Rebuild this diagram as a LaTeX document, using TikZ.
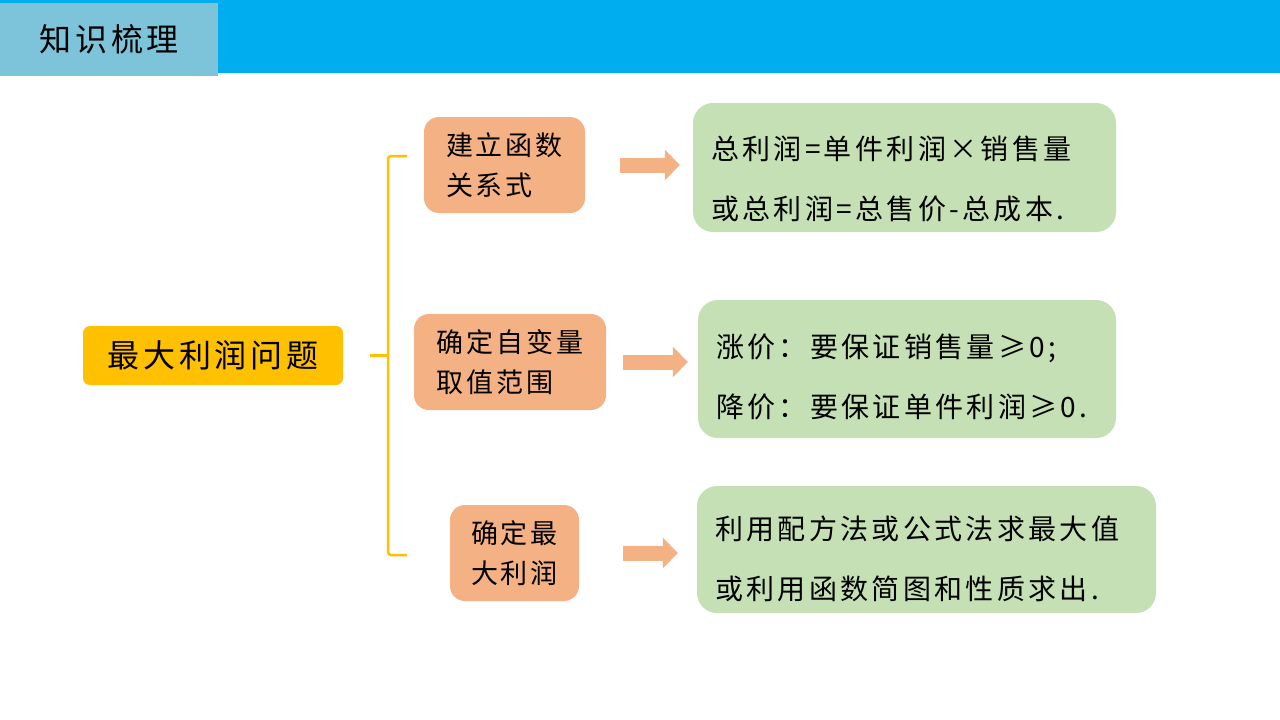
\documentclass[tikz,border=0pt]{standalone}
\usepackage{fontspec}
\usepackage{tikz}
\setmainfont{Noto Sans CJK SC}
\newfontfamily\kaiwide[LetterSpace=12]{Noto Sans CJK SC}
\newfontfamily\kaimid[LetterSpace=11]{Noto Sans CJK SC}
\usetikzlibrary{arrows.meta}
\definecolor{barblue}{HTML}{00AEEF}
\definecolor{tabblue}{HTML}{7DC3D9}
\definecolor{gold}{HTML}{FFC000}
\definecolor{peach}{HTML}{F4B183}
\definecolor{sage}{HTML}{C5E0B4}
\tikzset{
  mainbox/.style={fill=gold, rounded corners=7pt, inner sep=0pt, font=\kaiwide\fontsize{32}{36}\selectfont},
  stepbox/.style={fill=peach, rounded corners=15pt, inner sep=0pt, minimum height=96pt, align=left, font=\kaimid\fontsize{27}{40}\selectfont},
  notebox/.style={fill=sage, rounded corners=20pt, inner xsep=18pt, inner ysep=0pt, align=left, font=\kaiwide\fontsize{28}{60}\selectfont},
  brace/.style={draw=gold, line width=2.5pt, rounded corners=3pt},
  flow/.style={draw=peach, line width=15pt, -{Triangle[width=30pt,length=15pt]}}
}
\begin{document}
\begin{tikzpicture}[x=1pt,y=-1pt]
\useasboundingbox (0,0) rectangle (1280,720);
\fill[white] (0,0) rectangle (1280,720);
\fill[barblue] (0,0) rectangle (1280,73);
\node[fill=tabblue, anchor=north west, minimum width=218pt, minimum height=73pt, inner sep=0pt, font=\kaiwide\fontsize{32}{36}\selectfont] (title) at (0,3) {知识梳理};
%Boxes
\node[mainbox, minimum width=260pt, minimum height=59pt] (main) at (213,355.5) {最大利润问题};
\node[stepbox, minimum width=161pt] (o1) at (504.5,165) {建立函数\\关系式};
\node[stepbox, minimum width=192pt] (o2) at (510,362) {确定自变量\\取值范围};
\node[stepbox, minimum width=129pt] (o3) at (514.5,553) {确定最\\大利润};
\node[notebox, minimum height=129pt, text width=387pt] (g1) at (904.5,167.5) {\rule{0pt}{46pt}总利润=单件利润×销售量\\或总利润=总售价-总成本.};
\node[notebox, minimum height=138pt, text width=382pt] (g2) at (907,369) {\rule{0pt}{40pt}涨价：要保证销售量≥0;\\降价：要保证单件利润≥0.};
\node[notebox, minimum height=127pt, text width=423pt] (g3) at (926.5,549.5) {\rule{0pt}{43pt}利用配方法或公式法求最大值\\或利用函数简图和性质求出.};
%Brace
\coordinate (bt) at (388,156);
\coordinate (bb) at (388,555);
\draw[brace] ([xshift=19pt]bt) -- (bt) -- (bb) -- ([xshift=19pt]bb);
\draw[brace] (bt |- main) -- ([xshift=-18pt]bt |- main);
%Arrows
\draw[flow, shorten <=35pt, shorten >=13pt] (o1.east) -- (o1.east -| g1.west);
\draw[flow, shorten <=17pt, shorten >=10pt] (o2.east) -- (o2.east -| g2.west);
\draw[flow, shorten <=44pt, shorten >=19pt] (o3.east) -- (o3.east -| g3.west);
\end{tikzpicture}
\end{document}
